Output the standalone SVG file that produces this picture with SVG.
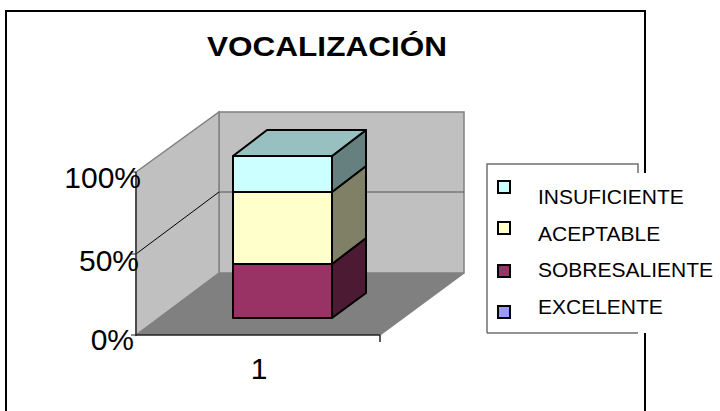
<svg xmlns="http://www.w3.org/2000/svg" width="720" height="411" viewBox="0 0 720 411">
<style>
text{font-family:"Liberation Sans",Arial,sans-serif;fill:#000}
.ax{font-size:30px}
.lg{font-size:21px}
.sw{stroke:#000;stroke-width:2}
.bar{stroke:#000;stroke-width:2;stroke-linejoin:round}
</style>
<rect width="720" height="411" fill="#fff"/>
<g id="frame" fill="none" stroke="#000" stroke-width="2">
<path d="M6,420 V11 H645 V173"/>
<path d="M645,333 V420"/>
</g>
<g id="title"><text x="327" y="56" text-anchor="middle" font-size="28" font-weight="bold" textLength="240" lengthAdjust="spacingAndGlyphs">VOCALIZACIÓN</text></g>
<g id="plot">
<polygon points="219,112 464,112 464,273 219,273" fill="#C0C0C0" stroke="#808080" stroke-width="1.5"/>
<polygon points="136,172 219,112 219,273 136,335" fill="#C0C0C0" stroke="#808080" stroke-width="1.5"/>
<polygon points="136,335 219,273 464,273 380,335" fill="#808080"/>
<line x1="219" y1="192" x2="464" y2="192" stroke="#555" stroke-width="1"/>
<line x1="136" y1="254" x2="219" y2="192" stroke="#000" stroke-width="1"/>
<line x1="464" y1="273" x2="380" y2="335" stroke="#808080" stroke-width="1.5"/>
<line x1="136" y1="172" x2="136" y2="336" stroke="#333" stroke-width="1.5"/>
<line x1="136" y1="335" x2="380" y2="335" stroke="#222" stroke-width="1.5"/>
<line x1="380" y1="335" x2="380" y2="342" stroke="#222" stroke-width="1.5"/>
<line x1="131" y1="172" x2="136" y2="172" stroke="#222" stroke-width="1"/>
<line x1="131" y1="254" x2="136" y2="254" stroke="#222" stroke-width="1"/>
<line x1="131" y1="335" x2="136" y2="335" stroke="#222" stroke-width="1"/>
<text class="ax" x="141" y="188" text-anchor="end">100%</text>
<text class="ax" x="139" y="271" text-anchor="end">50%</text>
<text class="ax" x="134" y="350" text-anchor="end">0%</text>
<text class="ax" x="259" y="379" text-anchor="middle">1</text>
</g>
<g id="bar">
<polygon class="bar" points="233,264 332,264 332,318 233,318" fill="#993366"/>
<polygon class="bar" points="332,264 366,238 366,293 332,318" fill="#4D1A33"/>
<polygon class="bar" points="233,192 332,192 332,264 233,264" fill="#FFFFCC"/>
<polygon class="bar" points="332,192 366,166 366,238 332,264" fill="#808066"/>
<polygon class="bar" points="233,156 332,156 332,192 233,192" fill="#CCFFFF"/>
<polygon class="bar" points="332,156 366,130 366,166 332,192" fill="#668080"/>
<polygon class="bar" points="233,156 267,130 366,130 332,156" fill="#99C0C0"/>
</g>
<g id="legend">
<rect x="487" y="173" width="233" height="160" fill="#fff"/>
<path d="M487,333 V164 H638 V173 M638,333 H487" fill="none" stroke="#707070" stroke-width="1.5"/>
<rect class="sw" x="498" y="181" width="12" height="12" fill="#CCFFFF"/>
<rect class="sw" x="498" y="222" width="12" height="12" fill="#FFFFCC"/>
<rect class="sw" x="498" y="265" width="12" height="12" fill="#993366"/>
<rect class="sw" x="498" y="306" width="12" height="12" fill="#9999FF"/>
<text class="lg" x="538" y="204">INSUFICIENTE</text>
<text class="lg" x="538" y="241">ACEPTABLE</text>
<text class="lg" x="538" y="277">SOBRESALIENTE</text>
<text class="lg" x="538" y="314">EXCELENTE</text>
</g>
</svg>
